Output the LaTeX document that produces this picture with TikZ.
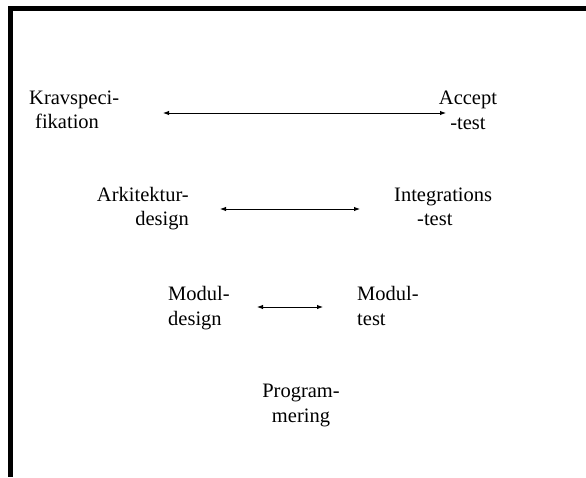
\documentclass[tikz,border=0pt]{standalone}
\usepackage{fontspec}
\setmainfont{Liberation Serif}
\usetikzlibrary{arrows.meta}
\begin{document}
\begin{tikzpicture}[x=1pt,y=-1pt,
  lbl/.style={inner sep=0pt, font=\fontsize{20.5}{24.5}\selectfont},
  link/.style={{Latex[length=6pt,width=4.5pt]}-{Latex[length=6pt,width=4.5pt]}, line width=0.9pt}]
\useasboundingbox (0,0) rectangle (586,477);
% frame bars
\fill[black] (8,6) rectangle (586,11);
\fill[black] (8,6) rectangle (12.5,477);
% labels (base anchor = baseline of the last line)
\node[lbl, anchor=base west, align=left] (krav) at (29,128.5) {Kravspeci-\\\hspace{6pt}fikation};
\node[lbl, anchor=base, align=center] (acc) at (468,129) {Accept\\-test};
\node[lbl, anchor=base east, align=right] (ark) at (189,225.5) {Arkitektur-\\design\hspace{4pt}};
\node[lbl, anchor=base west, align=left] (integ) at (394,225.5) {Integrations\\\hspace{23pt}-test};
\node[lbl, anchor=base west, align=left] (mdes) at (168,325) {Modul-\\design};
\node[lbl, anchor=base west, align=left] (mtest) at (357,325) {Modul-\\test};
\node[lbl, anchor=base, align=center] (prog) at (301,422) {Program-\\mering};
% arrow ends
\coordinate (a1l) at (163,113);
\coordinate (a1r) at (446,113);
\coordinate (a2l) at (220,209);
\coordinate (a2r) at (360,209);
\coordinate (a3l) at (257,307);
\coordinate (a3r) at (323,307);
\draw[link] (a1l) -- (a1r);
\draw[link] (a2l) -- (a2r);
\draw[link] (a3l) -- (a3r);
\end{tikzpicture}
\end{document}
